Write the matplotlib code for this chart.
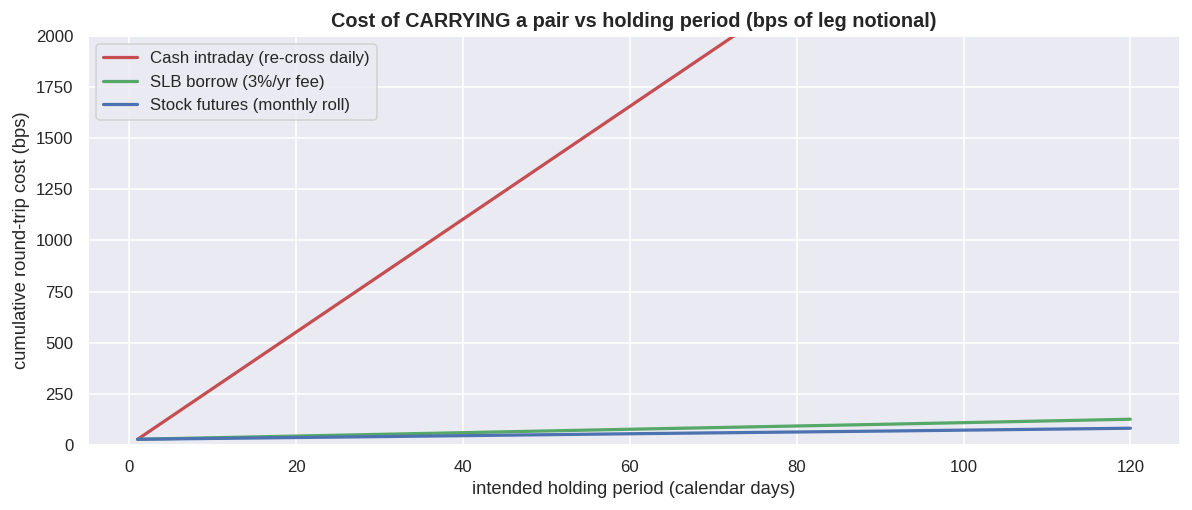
import numpy as np
import matplotlib
matplotlib.use("Agg")
import matplotlib.pyplot as plt
import seaborn as sns

# values (bps, cumulative round-trip cost)
days = [1, 30, 60, 90, 120]
cash_intraday = [28, 828, 1656, 2484, 3312]
slb_borrow = [28, 52, 77, 101, 126]
stock_futures = [28, 41, 55, 68, 82]

labels = ["Cash intraday (re-cross daily)", "SLB borrow (3%/yr fee)", "Stock futures (monthly roll)"]

sns.set_theme(style="darkgrid", color_codes=True)
plt.rcParams['font.family'] = ['Liberation Sans', 'DejaVu Sans']

DPI = 110
fig, ax = plt.subplots(figsize=(1192 / DPI, 510 / DPI), dpi=DPI)
ax.plot(days, cash_intraday, color="r", lw=2.1, label=labels[0])
ax.plot(days, slb_borrow, color="g", lw=2.1, label=labels[1])
ax.plot(days, stock_futures, color="b", lw=2.1, label=labels[2])

ax.set_ylim(0, 2000)
ax.set_xlabel("intended holding period (calendar days)")
ax.set_ylabel("cumulative round-trip cost (bps)")
ax.set_title("Cost of CARRYING a pair vs holding period (bps of leg notional)",
             fontsize=13, fontweight="bold")
ax.legend(loc="upper left")

fig.subplots_adjust(left=88 / 1192, right=1180 / 1192, top=1 - 36 / 510, bottom=1 - 445 / 510)
fig.savefig("out.png", dpi=DPI)
